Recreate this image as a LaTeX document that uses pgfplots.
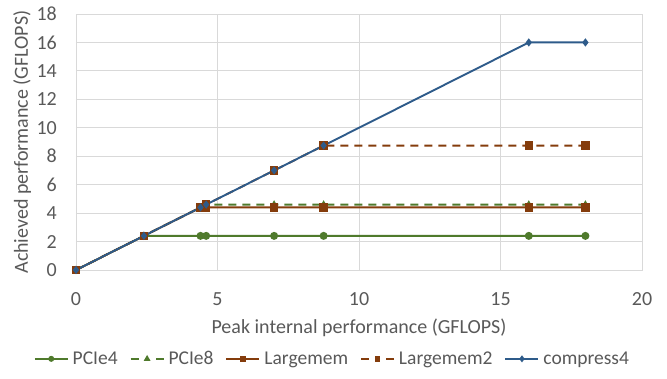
\documentclass[border=0pt]{standalone}
\usepackage{pgfplots}
\pgfplotsset{compat=1.18}
\usepackage{fontspec}
\setmainfont{Carlito}
\definecolor{txt}{HTML}{595959}
\definecolor{gridc}{HTML}{D9D9D9}
\definecolor{cgreen}{HTML}{4F7A2C}
\definecolor{cbrown}{HTML}{843C0C}
\definecolor{cblue}{HTML}{2E5B8A}
\pgfplotsset{
  dashleg/.style={legend image code/.code={\draw[##1, dash pattern=on 8pt off 9pt] (0pt,0pt) -- (16.5pt,0pt); \draw[##1, dash pattern=on 8pt off 9pt] (33pt,0pt) -- (16.5pt,0pt); \draw[##1, mark size=2pt] plot coordinates {(16.5pt,0pt)};}}
}
\begin{document}
\begin{tikzpicture}[x=1pt,y=1pt]
\begin{axis}[
  scale only axis, width=566pt, height=256pt,
  xmin=0, xmax=20, ymin=0, ymax=18,
  xtick={0,5,10,15,20}, ytick={0,2,4,...,18},
  grid=major, major grid style={gridc, line width=0.9pt},
  axis line style={gridc, line width=0.9pt},
  tick style={draw=none},
  /pgf/number format/assume math mode=true,
  ticklabel style={font=\fontsize{20}{24}\selectfont, text=txt, inner sep=0pt},
  xticklabel style={anchor=north, yshift=-22pt},
  yticklabel style={anchor=east, xshift=-19pt},
  xlabel={Peak internal performance (GFLOPS)},
  ylabel={Achieved performance (GFLOPS)},
  every axis x label/.style={at={(axis description cs:0.5,-0.227)}, anchor=center, font=\fontsize{20}{24}\selectfont, text=txt},
  every axis y label/.style={at={(axis description cs:-0.095,0.5)}, rotate=90, anchor=center, font=\fontsize{20}{24}\selectfont, text=txt},
  legend style={at={(axis description cs:0.453,-0.347)}, anchor=center, draw=none, fill=none,
    legend columns=5, font=\fontsize{19.5}{23}\selectfont, text=txt, inner sep=0pt,
    /tikz/every odd column/.append style={column sep=2pt},
    /tikz/every even column/.append style={column sep=10pt}},
  legend cell align=left,
  legend image code/.code={\draw[#1] (0pt,0pt) -- (33pt,0pt); \draw[#1, mark size=2pt] plot coordinates {(16.5pt,0pt)};},
]
\addplot[cgreen, line width=1.9pt, mark=*, mark size=3pt, mark options={solid, fill=cgreen}]
  coordinates {(0,0) (2.4,2.4) (4.4,2.4) (4.6,2.4) (7,2.4) (8.75,2.4) (16,2.4) (18,2.4)};
\addlegendentry{PCIe4}
\addplot[cgreen, line width=1.9pt, dash pattern=on 8pt off 6pt, mark=triangle*, mark size=2.5pt, mark options={solid, fill=cgreen}, dashleg]
  coordinates {(0,0) (2.4,2.4) (4.4,4.4) (4.6,4.6) (7,4.6) (8.75,4.6) (16,4.6) (18,4.6)};
\addlegendentry{PCIe8}
\addplot[cbrown, line width=1.9pt, mark=square*, mark size=3.3pt, mark options={solid, fill=cbrown}]
  coordinates {(0,0) (2.4,2.4) (4.4,4.4) (4.6,4.4) (7,4.4) (8.75,4.4) (16,4.4) (18,4.4)};
\addlegendentry{Largemem}
\addplot[cbrown, line width=1.9pt, dash pattern=on 8pt off 6pt, mark=square*, mark size=3.3pt, mark options={solid, fill=cbrown}, dashleg]
  coordinates {(0,0) (2.4,2.4) (4.4,4.4) (4.6,4.6) (7,7) (8.75,8.75) (16,8.75) (18,8.75)};
\addlegendentry{Largemem2}
\addplot[cblue, line width=1.9pt, mark=diamond*, mark size=2.6pt, mark options={solid, fill=cblue}]
  coordinates {(0,0) (2.4,2.4) (4.4,4.4) (4.6,4.6) (7,7) (8.75,8.75) (16,16) (18,16)};
\addlegendentry{compress4}
\end{axis}
\useasboundingbox (-76,-108) rectangle (591,270);
\end{tikzpicture}
\end{document}
